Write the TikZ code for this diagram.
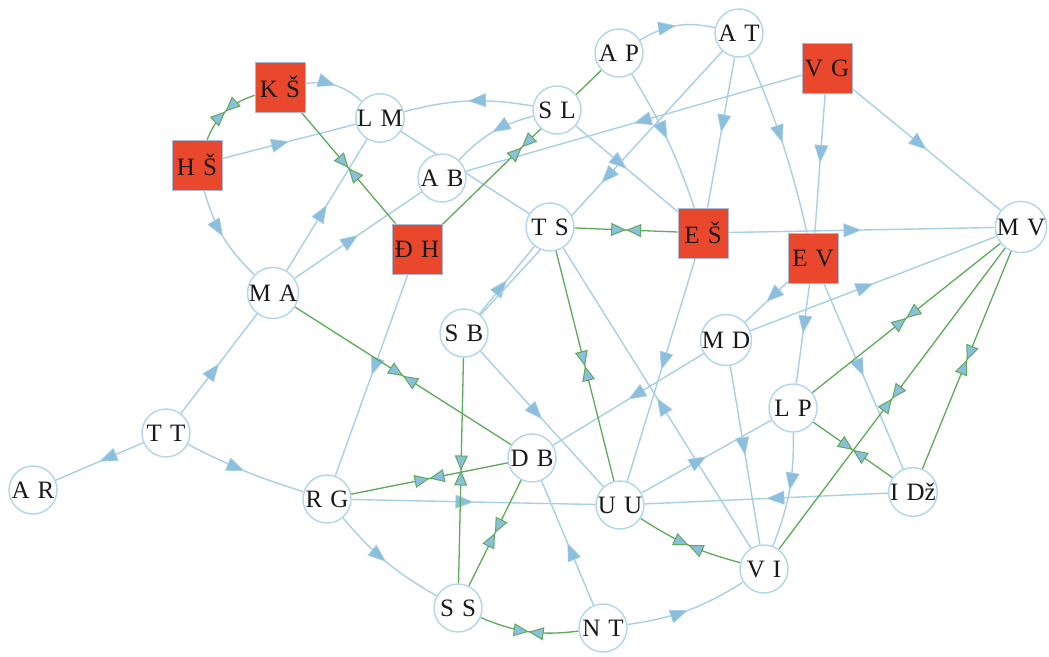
\documentclass[tikz,border=0pt]{standalone}
\usepackage{fontspec}
\setmainfont{Liberation Serif}[WordSpace=1.3]
\usetikzlibrary{arrows.meta,decorations.markings}
\definecolor{eblue}{RGB}{168,207,230}
\definecolor{afill}{RGB}{140,191,221}
\definecolor{egreen}{RGB}{94,170,90}
\definecolor{nred}{RGB}{234,72,45}
\definecolor{nborder}{RGB}{178,213,235}
\definecolor{sqborder}{RGB}{170,186,212}
\definecolor{txt}{RGB}{25,25,25}
\pgfdeclarelayer{bg}
\pgfsetlayers{bg,main}
\tikzset{
  cn/.style={circle, draw=nborder, line width=1.4pt, fill=white, minimum size=48pt, inner sep=0pt, font=\fontsize{25}{27}\selectfont, text=txt},
  sq/.style={rectangle, draw=sqborder, line width=0.8pt, fill=nred, minimum size=50pt, inner sep=0pt, font=\fontsize{25}{27}\selectfont, text=txt},
  ed/.style={draw=eblue, line width=1.4pt, postaction={decorate},
    decoration={markings, mark=at position 0.5 with {\arrow{Triangle[length=18pt,width=14pt,line width=0.6pt,fill=afill]}}}},
  edn/.style={draw=eblue, line width=1.4pt},
  gr/.style={draw=egreen, line width=1.3pt, postaction={decorate},
    decoration={markings, mark=at position 0.5 with {\arrow{Triangle[length=15pt,width=13pt,line width=1pt,fill=afill]}\arrowreversed{Triangle[length=15pt,width=13pt,line width=1pt,fill=afill]}}}}
}
\begin{document}
\begin{tikzpicture}[x=1pt,y=1pt]
\useasboundingbox (0,0) rectangle (1049,-656);
\node[sq] (KS) at (280,-87) {K Š};
\node[sq] (HS) at (197,-165) {H Š};
\node[cn] (LM) at (380,-118) {L M};
\node[cn] (AB) at (442,-178) {A B};
\node[sq] (DH) at (417,-249) {Đ H};
\node[cn] (SL) at (557,-110) {S L};
\node[cn] (AP) at (619,-53) {A P};
\node[cn] (AT) at (739,-33) {A T};
\node[sq] (VG) at (827,-68) {V G};
\node[cn] (TS) at (550,-227) {T S};
\node[sq] (ES) at (703,-233) {E Š};
\node[sq] (EV) at (813,-258) {E V};
\node[cn] (MV) at (1021,-227) {M V};
\node[cn] (MD) at (726,-340) {M D};
\node[cn] (LP) at (793,-408) {L P};
\node[cn] (ID) at (913,-492) {I Dž};
\node[cn] (VI) at (764,-569) {V I};
\node[cn] (UU) at (620,-505) {U U};
\node[cn] (NT) at (603,-628) {N T};
\node[cn] (SS) at (458,-608) {S S};
\node[cn] (DB) at (532,-458) {D B};
\node[cn] (SB) at (464,-333) {S B};
\node[cn] (RG) at (327,-499) {R G};
\node[cn] (MA) at (273,-293) {M A};
\node[cn] (TT) at (166,-433) {T T};
\node[cn] (AR) at (33,-490) {A R};
\begin{pgfonlayer}{bg}
\fill[white] (0,0) rectangle (1049,-656);
\draw[ed] (KS) to[bend left=25] (LM);
\draw[ed] (HS) -- (LM);
\draw[ed] (SL) to[bend right=12] (LM);
\draw[ed] (SL) to[bend right=16] (AB);
\draw[ed] (MA) -- (LM);
\draw[ed] (MA) -- (AB);
\draw[ed] (HS) to[bend right=15] (MA);
\draw[ed] (TT) -- (MA);
\draw[ed] (TT) -- (AR);
\draw[ed] (TT) to[bend right=5] (RG);
\draw[ed] (DH) -- (RG);
\draw[ed] (RG) -- (UU);
\draw[ed] (RG) to[bend right=10] (SS);
\draw[ed] (SB) -- (UU);
\draw[ed] (SB) -- (TS);
\draw[ed] (AT) -- (SB);
\draw[ed] (NT) -- (DB);
\draw[ed] (NT) to[bend right=12] (VI);
\draw[ed] (VI) -- (TS);
\draw[ed] (ES) -- (UU);
\draw[ed] (UU) -- (LP);
\draw[ed] (ID) -- (UU);
\draw[ed] (MD) -- (VI);
\draw[ed] (LP) to[bend left=11] (VI);
\draw[ed] (MD) -- (DB);
\draw[ed] (EV) -- (MD);
\draw[ed] (MD) -- (MV);
\draw[ed] (EV) -- (LP);
\draw[ed] (EV) -- (ID);
\draw[ed] (ES) -- (MV);
\draw[ed] (VG) -- (MV);
\draw[ed] (VG) -- (EV);
\draw[ed] (VG) -- (AB);
\draw[ed] (AT) -- (ES);
\draw[ed] (AP) to[bend left=6] (ES);
\draw[ed] (AT) to[bend left=5] (EV);
\draw[ed] (AP) to[bend left=22] (AT);
\draw[ed] (SL) -- (ES);
\draw[edn] (LM) -- (TS);
\draw[gr] (HS) to[bend left=25] (KS);
\draw[gr] (KS) -- (DH);
\draw[gr] (AP) -- (DH);
\draw[gr] (MA) -- (DB);
\draw[gr] (RG) -- (DB);
\draw[gr] (SB) -- (SS);
\draw[gr] (DB) -- (SS);
\draw[gr] (SS) to[bend right=15] (NT);
\draw[gr] (TS) -- (UU);
\draw[gr] (TS) -- (ES);
\draw[gr] (UU) to[bend right=9] (VI);
\draw[gr] (LP) -- (MV);
\draw[gr] (VI) -- (MV);
\draw[gr] (ID) -- (MV);
\draw[gr] (LP) -- (ID);
\end{pgfonlayer}
\end{tikzpicture}
\end{document}
